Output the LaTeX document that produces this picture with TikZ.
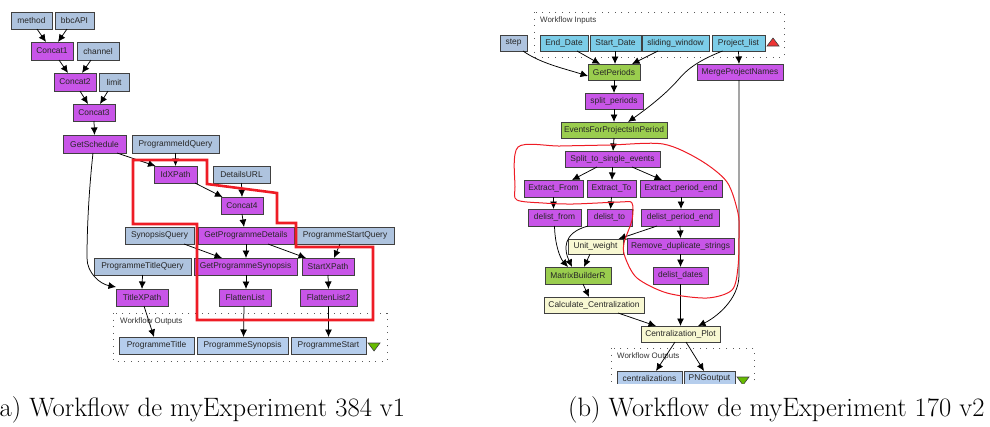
\documentclass[tikz,border=0pt]{standalone}
\usepackage{fontspec}
\setmainfont{Liberation Sans}
\newfontfamily\capfont{Latin Modern Roman}
\usetikzlibrary{arrows.meta}
\definecolor{purp}{HTML}{C855E8}
\definecolor{inp}{HTML}{AEC3DE}
\definecolor{outp}{HTML}{B5CDEC}
\definecolor{cyanb}{HTML}{7CCDE8}
\definecolor{grn}{HTML}{9ACD4E}
\definecolor{cream}{HTML}{F8F8D2}
\definecolor{edgeg}{HTML}{404040}
\definecolor{redl}{HTML}{EE1C25}
\definecolor{trigreen}{HTML}{66BB00}
\definecolor{trired}{HTML}{EE3333}
\tikzset{
  wbox/.style={rectangle,draw=edgeg,line width=1pt,inner sep=0pt,outer sep=0pt,
     font=\fontsize{8.4}{9}\selectfont,text=black!85},
  procb/.style={wbox,fill=purp},
  inb/.style={wbox,fill=inp},
  outb/.style={wbox,fill=outp},
  cyb/.style={wbox,fill=cyanb},
  grb/.style={wbox,fill=grn},
  crb/.style={wbox,fill=cream},
  wire/.style={draw=black,line width=0.75pt,-{Latex[length=7.5pt,width=7pt]}},
  portbox/.style={draw=black!65,line width=1pt,dash pattern=on 1pt off 5.6pt},
  portlab/.style={inner sep=0pt,anchor=west,font=\fontsize{7.9}{9}\selectfont,text=black!80},
  redthick/.style={draw=redl,line width=2.6pt,line join=miter},
  redthin/.style={draw=redl,line width=1pt},
  captext/.style={inner sep=0pt,anchor=base west,font=\capfont\fontsize{26.6}{30}\selectfont},
  cliplab/.style={inner sep=0pt,font=\fontsize{8.4}{9}\selectfont,text=black!85},
}
\newcommand\wb[7]{\node[#1,minimum width={#5-#3},minimum height={#6-#4}] (#2) at ({(#3+#5)/2},{(#4+#6)/2}) {#7};}
\newcommand\lnk[4]{\draw[wire] ([xshift=#2pt]#1.south) -- ([xshift=#4pt]#3.north);}
\begin{document}
\begin{tikzpicture}[x=1pt,y=-1pt]
\useasboundingbox (0,0) rectangle (990,426);
% ---- left workflow
\draw[portbox] (113,313) rectangle (387,361);
\node[portlab] (lolab) at (120,321) {Workflow Outputs};
\wb{inb}{method}{11}{12}{52}{29}{method}
\wb{inb}{bbcAPI}{55}{12}{94}{29}{bbcAPI}
\wb{procb}{ConcatA}{31}{42}{73}{60}{Concat1}
\wb{inb}{channel}{77}{42}{119}{60}{channel}
\wb{procb}{ConcatB}{54}{73}{96}{91}{Concat2}
\wb{inb}{limit}{99}{73}{129}{91}{limit}
\wb{procb}{ConcatC}{73}{104}{115}{121}{Concat3}
\wb{procb}{GetSchedule}{63}{135}{126}{153}{GetSchedule}
\wb{inb}{PIQ}{132}{135}{219}{153}{ProgrammeIdQuery}
\wb{procb}{IdXPath}{154}{166}{197}{183}{IdXPath}
\wb{inb}{DetailsURL}{213}{166}{270}{183}{DetailsURL}
\wb{procb}{ConcatD}{221}{197}{263}{214}{Concat4}
\wb{inb}{SQ}{125}{227}{194}{244}{SynopsisQuery}
\wb{procb}{GPD}{198}{227}{294}{244}{GetProgrammeDetails}
\wb{inb}{PSQ}{296}{227}{394}{244}{ProgrammeStartQuery}
\wb{inb}{PTQ}{94}{258}{191}{275}{ProgrammeTitleQuery}
\wb{procb}{GPS}{194}{258}{297}{275}{GetProgrammeSynopsis}
\wb{procb}{StartXPath}{302}{258}{354}{275}{StartXPath}
\wb{procb}{TitleXPath}{116}{289}{168}{306}{TitleXPath}
\wb{procb}{FlattenA}{219}{289}{271}{306}{FlattenList}
\wb{procb}{FlattenB}{300}{289}{357}{306}{FlattenList2}
\wb{outb}{PT}{119}{337}{194}{354}{ProgrammeTitle}
\wb{outb}{PSyn}{197}{337}{288}{354}{ProgrammeSynopsis}
\wb{outb}{PStart}{291}{337}{366}{354}{ProgrammeStart}
\draw[draw=edgeg,fill=trigreen,line width=0.6pt] (368,343) -- (380,343) -- (374,351) -- cycle;
\lnk{method}{5.5}{ConcatA}{-6}
\lnk{bbcAPI}{-7.5}{ConcatA}{6}
\lnk{ConcatA}{7}{ConcatB}{-7}
\lnk{channel}{-7}{ConcatB}{7}
\lnk{ConcatB}{5}{ConcatC}{-6}
\lnk{limit}{-6}{ConcatC}{6}
\lnk{ConcatC}{0}{GetSchedule}{0}
\lnk{GetSchedule}{22.5}{IdXPath}{-20}
\draw[wire] ([xshift=-1.5pt]GetSchedule.south) .. controls (90,180) and (87,220) .. (87,258) .. controls (87,273) and (100,284) .. ([yshift=2pt]TitleXPath.north west);
\lnk{PIQ}{0}{IdXPath}{0}
\lnk{IdXPath}{19.5}{ConcatD}{-19.5}
\lnk{DetailsURL}{0}{ConcatD}{0}
\lnk{ConcatD}{0}{GPD}{-2}
\lnk{SQ}{24.5}{GPS}{-23.5}
\lnk{GPD}{0}{GPS}{0.5}
\lnk{GPD}{22}{StartXPath}{-22}
\lnk{PSQ}{-5}{StartXPath}{6}
\lnk{PTQ}{0}{TitleXPath}{0}
\lnk{GPS}{0.5}{FlattenA}{1}
\lnk{StartXPath}{0}{FlattenB}{0}
\lnk{TitleXPath}{2}{PT}{-2.5}
\lnk{FlattenA}{-1}{PSyn}{1}
\lnk{FlattenB}{0}{PStart}{0}
\draw[redthick] (133,160) -- (207,160) -- (207,184) -- (277,193) -- (277,223) -- (296,223) -- (296,247) -- (373,247) -- (373,320) -- (197,320) -- (197,224) -- (133,224) -- cycle;
% ---- right workflow
\draw[portbox] (534,12) rectangle (784,57);
\node[portlab] (rilab) at (540,20) {Workflow Inputs};
\wb{inb}{step}{500}{35}{527}{51}{step}
\wb{cyb}{EndDate}{540}{35}{588}{51}{End\_Date}
\wb{cyb}{StartDate}{590}{35}{641}{51}{Start\_Date}
\wb{cyb}{sliding}{642}{35}{709}{51}{sliding\_window}
\wb{cyb}{Plist}{712}{35}{765}{51}{Project\_list}
\draw[draw=edgeg,fill=trired,line width=0.6pt] (767,46) -- (779,46) -- (773,38) -- cycle;
\wb{grb}{GetPeriods}{588}{64}{640}{80}{GetPeriods}
\wb{procb}{Merge}{697}{64}{783}{80}{MergeProjectNames}
\wb{procb}{splitp}{585}{93}{643}{109}{split\_periods}
\wb{grb}{Events}{561}{122}{667}{138}{EventsForProjectsInPeriod}
\wb{procb}{Split}{565}{151}{660}{167}{Split\_to\_single\_events}
\wb{procb}{EF}{524}{180}{583}{197}{Extract\_From}
\wb{procb}{ET}{587}{180}{636}{197}{Extract\_To}
\wb{procb}{EPE}{640}{180}{722}{197}{Extract\_period\_end}
\wb{procb}{df}{528}{209}{581}{226}{delist\_from}
\wb{procb}{dt}{587}{209}{632}{226}{delist\_to}
\wb{procb}{dpe}{641}{209}{719}{226}{delist\_period\_end}
\wb{crb}{UW}{568}{239}{623}{254}{Unit\_weight}
\wb{procb}{RDS}{627}{238}{734}{254}{Remove\_duplicate\_strings}
\wb{procb}{dd}{653}{267}{708}{284}{delist\_dates}
\wb{grb}{MBR}{545}{267}{611}{284}{MatrixBuilderR}
\wb{crb}{CC}{544}{297}{644}{313}{Calculate\_Centralization}
\wb{crb}{CP}{641}{326}{720}{342}{Centralization\_Plot}
\begin{scope}
\clip (600,340) rectangle (760,383);
\draw[portbox] (611,348) rectangle (754,395);
\wb{outb}{cent}{617}{371}{682}{390}{}
\wb{outb}{PNG}{684}{371}{735}{390}{}
\node[cliplab] (centlab) at (649.5,378.5) {centralizations};
\node[cliplab] (pnglab) at (709.5,378.5) {PNGoutput};
\draw[draw=edgeg,fill=trigreen,line width=0.6pt] (737,377) -- (749,377) -- (743,385) -- cycle;
\end{scope}
\node[portlab] (rolab) at (617,356) {Workflow Outputs};
\draw[wire] ([xshift=-4pt]step.south east) .. controls (540,63) and (562,68) .. ([yshift=-4pt]GetPeriods.west);
\lnk{EndDate}{13}{GetPeriods}{-14}
\lnk{StartDate}{-0.5}{GetPeriods}{1}
\lnk{sliding}{-17.5}{GetPeriods}{18}
\lnk{Plist}{0}{Merge}{-1}
\draw[wire] ([xshift=-16pt]Plist.south) .. controls (700,60) and (688,68) .. (678,80) .. controls (665,95) and (645,110) .. ([xshift=14pt]Events.north);
\lnk{GetPeriods}{0}{splitp}{0}
\lnk{splitp}{0}{Events}{0}
\lnk{Events}{0}{Split}{0.5}
\lnk{Split}{-15.5}{EF}{18.5}
\lnk{Split}{0}{ET}{0.5}
\lnk{Split}{19.5}{EPE}{-19}
\lnk{EF}{0}{df}{-1}
\lnk{ET}{0}{dt}{1}
\lnk{EPE}{0}{dpe}{1}
\draw[wire] (df.south) .. controls (555,245) and (560,258) .. ([xshift=-10pt]MBR.north);
\draw[wire] ([xshift=-21.5pt]dt.south) .. controls (562,233) and (564,250) .. ([xshift=-6pt]MBR.north);
\lnk{UW}{-5.5}{MBR}{6}
\lnk{dpe}{-23}{UW}{23}
\lnk{dpe}{0}{RDS}{0}
\lnk{RDS}{0}{dd}{0}
\lnk{MBR}{5}{CC}{-5}
\lnk{CC}{24}{CP}{-24.5}
\lnk{dd}{0}{CP}{0}
\draw[wire] ([xshift=-1pt]Merge.south) -- (739,275) .. controls (739,300) and (715,318) .. ([xshift=17.5pt]CP.north);
\lnk{CP}{-5.5}{cent}{6.5}
\lnk{CP}{5.5}{PNG}{-5.5}
\draw[redthin] plot[smooth cycle,tension=0.5] coordinates {(518,147) (560,146) (610,145) (663,144) (700,160) (727,182) (738,213) (739,233) (738,267) (732,290) (707,298) (667,293) (637,278) (625,257) (624,243) (632,220) (632,203) (620,202) (573,204) (543,203) (517,200) (515,187)};
% ---- captions
\node[captext] (capa) at (-10,416) {(a) Workflow de myExperiment 384 v1};
\node[captext] (capb) at (568,416) {(b) Workflow de myExperiment 170 v2};
\end{tikzpicture}
\end{document}
